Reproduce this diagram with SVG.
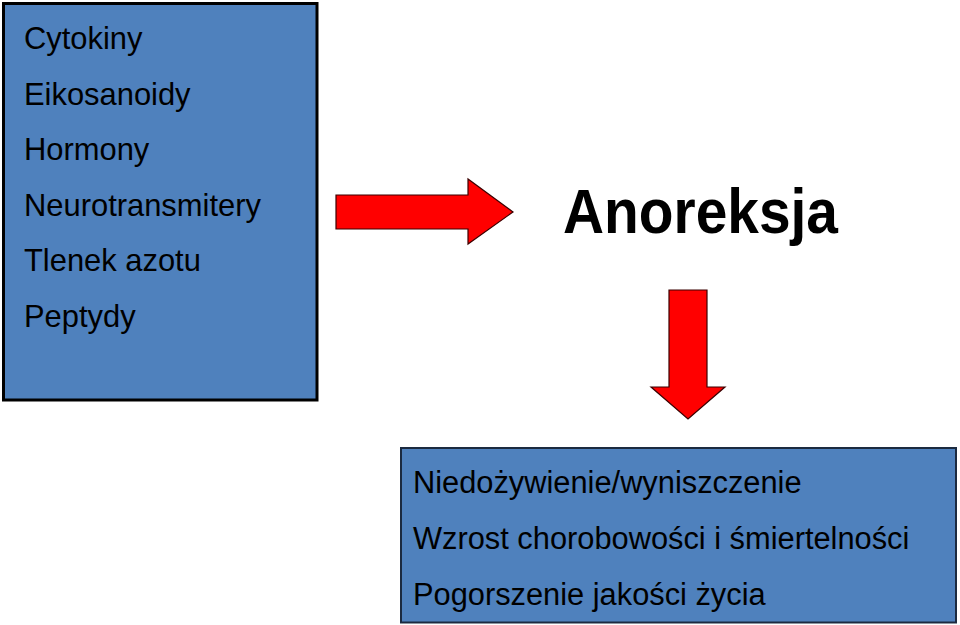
<svg xmlns="http://www.w3.org/2000/svg" width="960" height="625" viewBox="0 0 960 625">
<style>
.box{fill:#4F81BD}
.t{font-family:"Liberation Sans",Arial,sans-serif;font-size:30.9px;fill:#000}
.b{font-family:"Liberation Sans",Arial,sans-serif;font-size:30.8px;fill:#000}
.arrow{fill:#FF0000;stroke:#3a0000;stroke-width:1.2}
</style>
<rect width="960" height="625" fill="#fff"/>
<g id="causes">
<rect class="box" x="3.5" y="3.5" width="313.5" height="396.5" stroke="#000" stroke-width="3"/>
<text class="t" x="24" y="49">Cytokiny</text>
<text class="t" x="24" y="104.5">Eikosanoidy</text>
<text class="t" x="24" y="160">Hormony</text>
<text class="t" x="24" y="215.5">Neurotransmitery</text>
<text class="t" x="24" y="271">Tlenek azotu</text>
<text class="t" x="24" y="326.5">Peptydy</text>
</g>
<g id="anoreksja">
<text x="563" y="233" font-family="Liberation Sans,Arial,sans-serif" font-weight="bold" font-size="63" textLength="275" lengthAdjust="spacingAndGlyphs">Anoreksja</text>
</g>
<g id="effects">
<rect class="box" x="401" y="448" width="555" height="174.5" stroke="#1b2a40" stroke-width="2"/>
<text class="b" x="413" y="493">Niedożywienie/wyniszczenie</text>
<text class="b" x="413" y="549">Wzrost chorobowości i śmiertelności</text>
<text class="b" x="413" y="605">Pogorszenie jakości życia</text>
</g>
<g id="connectors">
<path class="arrow" d="M336 195 H468 V179 L513 212 L468 244 V229 H336 Z"/>
<path class="arrow" d="M669 290 H707 V387 H725 L688 419 L651 387 H669 Z"/>
</g>
</svg>
